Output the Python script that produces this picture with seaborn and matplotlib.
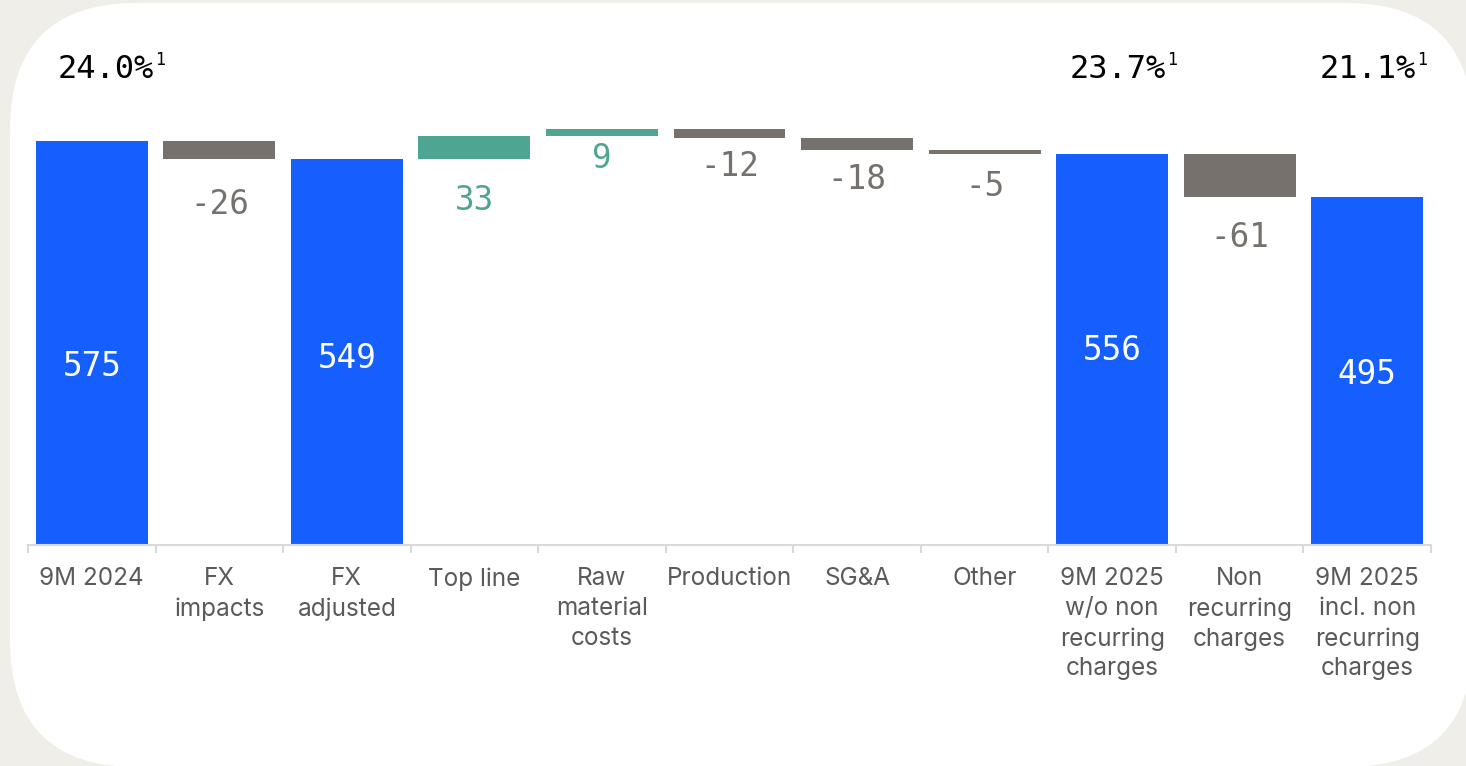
"""Adjusted EBITDA bridge 9M 2024 -> 9M 2025, drawn as a seaborn waterfall."""

import matplotlib

matplotlib.use("Agg")
import matplotlib.pyplot as plt
import numpy as np
import pandas as pd
import seaborn as sns
from matplotlib.patches import FancyBboxPatch
from matplotlib.ticker import FixedLocator

# data
categories = ["9M 2024", "FX\nimpacts", "FX\nadjusted", "Top line", "Raw\nmaterial\ncosts",
              "Production", "SG&A", "Other", "9M 2025\nw/o non\nrecurring\ncharges",
              "Non\nrecurring\ncharges", "9M 2025\nincl. non\nrecurring\ncharges"]
values = [575, -26, 549, 33, 9, -12, -18, -5, 556, -61, 495]
is_total = [True, False, True, False, False, False, False, False, True, False, True]
margin_cats = ["9M 2024", "9M 2025\nw/o non\nrecurring\ncharges",
               "9M 2025\nincl. non\nrecurring\ncharges"]
margin_texts = ["24.0%", "23.7%", "21.1%"]

# style
BLUE = "#165FFF"
GREY = "#76716D"
GREEN = "#4EA692"
BEIGE = "#F0EEE9"
LABEL_GREY = "#5A5A5A"
SPINE = "#D9D9D9"
NUM_FONT = "DejaVu Sans Mono"
# nudges (px) of the labels, measured against the reference layout
label_dy_px = [-24, -46, -7, -42, -23, -29, -29, -33, -1, -41, -4]
margin_dx_px = [14, 6, 1]

# waterfall geometry
bottoms, heights = [], []
level = 0
for v, tot in zip(values, is_total):
    if tot:
        bottoms.append(0)
        heights.append(v)
        level = v
    else:
        bottoms.append(min(level, level + v))
        heights.append(abs(v))
        level += v

colors = [BLUE if t else (GREEN if v > 0 else GREY) for v, t in zip(values, is_total)]
df = pd.DataFrame({"category": categories, "height": heights})

sns.set_theme(style="white")
plt.rcParams["font.family"] = ["Inter", "DejaVu Sans"]

fig = plt.figure(figsize=(14.66, 7.66), dpi=100, facecolor=BEIGE)
panel = FancyBboxPatch((0.10, -0.01), 14.63, 7.64,
                       boxstyle="round,pad=0,rounding_size=1.27",
                       transform=fig.dpi_scale_trans, facecolor="white",
                       edgecolor="none", zorder=-1)
fig.patches.append(panel)

ax = fig.add_axes([28 / 1466, 221 / 766, 1403 / 1466, 505 / 766])
ax.set_facecolor("none")

sns.barplot(data=df, x="category", y="height", hue="category", palette=colors,
            legend=False, width=0.878, saturation=1, ax=ax, linewidth=0)

for patch, b in zip(ax.patches, bottoms):
    patch.set_y(b)

ax.set_xlim(-0.5, len(categories) - 0.5)
ax.set_ylim(0, 718)
ax.set_xlabel("")
ax.set_ylabel("")
ax.set_yticks([])

for side in ["left", "right", "top"]:
    ax.spines[side].set_visible(False)
ax.spines["bottom"].set_color(SPINE)
ax.spines["bottom"].set_linewidth(1.5)

ax.xaxis.set_minor_locator(FixedLocator(np.arange(-0.5, len(categories), 1.0)))
ax.tick_params(axis="x", which="major", length=0, pad=16, labelsize=17.5,
               labelcolor=LABEL_GREY)
ax.tick_params(axis="x", which="minor", length=6, width=1.5, color=SPINE,
               direction="out", bottom=True)
for lbl in ax.get_xticklabels():
    lbl.set_linespacing(1.38)

# value labels
for i, (v, tot, b, h) in enumerate(zip(values, is_total, bottoms, heights)):
    if tot:
        ax.annotate(f"{v}", xy=(i, b + h / 2), xytext=(0, label_dy_px[i]),
                    textcoords="offset pixels", ha="center", va="center",
                    fontsize=23.5, color="white", family=NUM_FONT)
    else:
        ax.annotate(f"{v}", xy=(i, b), xytext=(0, label_dy_px[i]),
                    textcoords="offset pixels", ha="center", va="center",
                    fontsize=23.5, color=GREEN if v > 0 else GREY, family=NUM_FONT)

# margin labels with footnote marker
for cat, txt, dx in zip(margin_cats, margin_texts, margin_dx_px):
    i = categories.index(cat)
    main = ax.annotate(txt, xy=(i, 0.9406), xycoords=ax.get_xaxis_transform(),
                       xytext=(dx, 0), textcoords="offset pixels", ha="center", va="center",
                       fontsize=23, color="black", family=NUM_FONT)
    ax.annotate("1", xy=(1, 1), xycoords=main, xytext=(1, 3), textcoords="offset pixels",
                ha="left", va="top", fontsize=12, color="black", family=NUM_FONT)

fig.savefig("out.png", dpi=100, facecolor=BEIGE)
